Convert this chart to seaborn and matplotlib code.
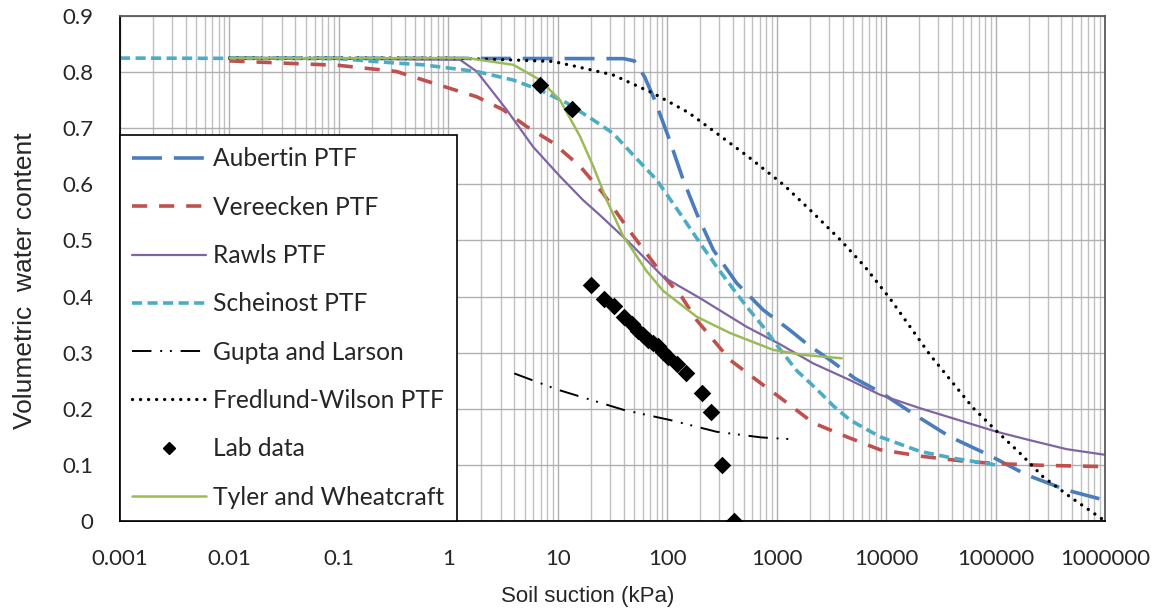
import numpy as np
import pandas as pd
import matplotlib
matplotlib.use("Agg")
import matplotlib.pyplot as plt
import seaborn as sns
from matplotlib.ticker import FixedLocator, LogLocator, NullFormatter

# ---------------- data ----------------
aubertin_x = [0.01, 40, 50, 62, 77, 105, 140, 186, 264, 431, 755, 1324, 1935, 3070, 5200,
              8800, 18400, 38400, 85900, 193000, 447000, 1000000]
aubertin_y = [0.825, 0.824, 0.820, 0.792, 0.750, 0.679, 0.608, 0.548, 0.483, 0.424, 0.376,
              0.340, 0.314, 0.287, 0.254, 0.230, 0.189, 0.150, 0.118, 0.082, 0.055, 0.037]

vereecken_x = [0.01, 0.1, 0.337, 0.588, 1.82, 3.16, 5.2, 9.05, 16, 25.9, 45.7, 92, 135, 186,
               375, 657, 1143, 2150, 4370, 8800, 21700, 54500, 110000, 294000, 1000000]
vereecken_y = [0.820, 0.812, 0.801, 0.786, 0.756, 0.733, 0.703, 0.674, 0.632, 0.584, 0.516,
               0.437, 0.400, 0.358, 0.287, 0.251, 0.216, 0.175, 0.150, 0.127, 0.115, 0.106,
               0.102, 0.099, 0.097]

rawls_x = [0.01, 1.28, 1.82, 3.41, 5.94, 10.5, 17, 24.3, 45.7, 92, 200, 532, 1073, 2150, 4680,
           8800, 20400, 40800, 102500, 206000, 447000, 1000000]
rawls_y = [0.825, 0.822, 0.801, 0.733, 0.667, 0.614, 0.572, 0.545, 0.495, 0.435, 0.397, 0.346,
           0.315, 0.281, 0.251, 0.225, 0.201, 0.183, 0.159, 0.144, 0.128, 0.118]

scheinost_x = [0.001, 0.1, 0.337, 0.588, 1.82, 3.9, 6.88, 12.1, 21, 32, 49, 80, 131, 200, 283,
               375, 532, 755, 1073, 1525, 2320, 3300, 4680, 8800, 20400, 40800, 100000]
scheinost_y = [0.825, 0.824, 0.816, 0.813, 0.801, 0.786, 0.768, 0.745, 0.715, 0.691, 0.652,
               0.608, 0.548, 0.495, 0.453, 0.421, 0.382, 0.346, 0.306, 0.268, 0.235, 0.205,
               0.180, 0.150, 0.124, 0.112, 0.100]

gupta_x = [4, 10, 40, 106, 283, 720, 1300]
gupta_y = [0.263, 0.234, 0.198, 0.180, 0.159, 0.149, 0.146]

fredlund_x = [0.01, 1, 3.41, 9.05, 14, 32, 75, 156, 283, 552, 1161, 2104, 3820, 6410, 10800,
              25200, 62700, 102500, 167000, 271000, 480000, 1000000]
fredlund_y = [0.825, 0.825, 0.822, 0.819, 0.811, 0.795, 0.762, 0.728, 0.691, 0.649, 0.599,
              0.551, 0.501, 0.453, 0.397, 0.296, 0.201, 0.160, 0.121, 0.079, 0.043, 0.0]

lab_x = [6.9, 13.4, 20, 26.6, 32.9, 40.3, 47.4, 54.5, 60.5, 67.2, 74.6, 83, 92, 102, 122, 149,
         207, 250, 315, 407]
lab_y = [0.777, 0.734, 0.421, 0.396, 0.384, 0.364, 0.351, 0.338, 0.332, 0.323, 0.317, 0.311,
         0.302, 0.293, 0.280, 0.263, 0.229, 0.195, 0.100, 0.0]

tyler_x = [0.01, 1.5, 3.93, 6.88, 10.5, 16, 21.1, 28, 39.7, 46, 65, 92, 186, 375, 930, 1750, 3930]
tyler_y = [0.825, 0.825, 0.813, 0.786, 0.750, 0.685, 0.632, 0.572, 0.507, 0.489, 0.445, 0.410,
           0.364, 0.335, 0.305, 0.296, 0.290]

x_ticks = [0.001, 0.01, 0.1, 1, 10, 100, 1000, 10000, 100000, 1000000]
x_tick_labels = ["0.001", "0.01", "0.1", "1", "10", "100", "1000", "10000", "100000", "1000000"]
y_ticks = [0, 0.1, 0.2, 0.3, 0.4, 0.5, 0.6, 0.7, 0.8, 0.9]
y_tick_labels = ["0", "0.1", "0.2", "0.3", "0.4", "0.5", "0.6", "0.7", "0.8", "0.9"]

# ---------------- style ----------------
sns.set_theme(style="white")
plt.rcParams['font.family'] = ['Lato', 'DejaVu Sans']

fig = plt.figure(figsize=(11.53, 6.11), dpi=100)
ax = fig.add_axes([120 / 1153, 1 - 521 / 611, 985 / 1153, 505 / 611])

series = [
    ("Aubertin PTF", aubertin_x, aubertin_y, "#4A7DBC", 2.6, (8.3, 3.3), "butt"),
    ("Vereecken PTF", vereecken_x, vereecken_y, "#C0504D", 2.6, (4.2, 3.3), "butt"),
    ("Rawls PTF", rawls_x, rawls_y, "#8064A2", 1.6, None, "butt"),
    ("Scheinost PTF", scheinost_x, scheinost_y, "#4BACC6", 2.6, (2.8, 1.5), "butt"),
    ("Gupta and Larson", gupta_x, gupta_y, "black", 1.4, (10.0, 4.5, 1.0, 4.0, 1.0, 4.5), "butt"),
    ("Fredlund-Wilson PTF", fredlund_x, fredlund_y, "black", 2.4, (0.01, 2.4), "round"),
]

handles = {}
for name, xs, ys, color, lw, dashes, cap in series:
    sns.lineplot(x=xs, y=ys, ax=ax, color=color, linewidth=lw, sort=False,
                 estimator=None, legend=False, zorder=2)
    line = ax.lines[-1]
    if dashes is not None:
        line.set_dashes(dashes)
    line.set_dash_capstyle(cap)
    line.set_label(name)
    handles[name] = line

sns.scatterplot(x=lab_x, y=lab_y, ax=ax, marker="D", s=80, color="black",
                edgecolor="black", linewidth=0, zorder=4, legend=False)
lab_handle = plt.Line2D([], [], linestyle="none", marker="D", markersize=6.5,
                        color="black", label="Lab data")

sns.lineplot(x=tyler_x, y=tyler_y, ax=ax, color="#9BBB59", linewidth=1.8, sort=False,
             estimator=None, legend=False, zorder=3)
tyler_line = ax.lines[-1]
tyler_line.set_label("Tyler and Wheatcraft")

# ---------------- axes ----------------
ax.set_xscale("log")
ax.set_xlim(1e-3, 1e6)
ax.set_ylim(0, 0.9)
ax.xaxis.set_major_locator(FixedLocator(x_ticks))
ax.set_xticklabels(x_tick_labels)
ax.xaxis.set_minor_locator(LogLocator(base=10, subs=np.arange(2, 10), numticks=100))
ax.xaxis.set_minor_formatter(NullFormatter())
ax.set_yticks(y_ticks)
ax.set_yticklabels(y_tick_labels)

ax.set_axisbelow(True)
ax.grid(which="major", axis="both", color="#B0B0B0", linewidth=1.0)
ax.grid(which="minor", axis="x", color="#C0C0C0", linewidth=1.0)

ax.tick_params(axis="x", which="major", direction="in", length=7, width=1.0,
               color="black", pad=20, labelsize=16, labelcolor="#262626")
ax.tick_params(axis="x", which="minor", length=0)
ax.tick_params(axis="y", which="major", length=0, pad=19, labelsize=16, labelcolor="#262626")

for side in ["left", "bottom"]:
    ax.spines[side].set_color("black")
    ax.spines[side].set_linewidth(1.3)
for side in ["top", "right"]:
    ax.spines[side].set_color("#5A5A5A")
    ax.spines[side].set_linewidth(1.3)

ax.set_xlabel("Soil suction (kPa)", fontsize=16, family=["Liberation Sans"], color="#262626")
ax.set_ylabel("Volumetric  water content", fontsize=19, family=["Liberation Sans"], color="#262626")
ax.xaxis.set_label_coords(0.475, -0.150)
ax.xaxis.label.set_va("center")
ax.yaxis.set_label_coords(-0.0965, 0.475)
ax.yaxis.label.set_va("center")

legend_order = ["Aubertin PTF", "Vereecken PTF", "Rawls PTF", "Scheinost PTF",
                "Gupta and Larson", "Fredlund-Wilson PTF"]
leg_handles = [handles[n] for n in legend_order] + [lab_handle, tyler_line]
leg_labels = legend_order + ["Lab data", "Tyler and Wheatcraft"]
leg = ax.legend(leg_handles, leg_labels, loc="lower left", bbox_to_anchor=(0, 0),
                borderaxespad=0, fancybox=False, framealpha=1, edgecolor="black",
                fontsize=17.7, handlelength=3.0, handletextpad=0.3, labelspacing=1.03,
                borderpad=0.5)
leg.get_frame().set_linewidth(1.2)
for t in leg.get_texts():
    t.set_color("#262626")

fig.savefig("out.png", dpi=100, facecolor="white")
